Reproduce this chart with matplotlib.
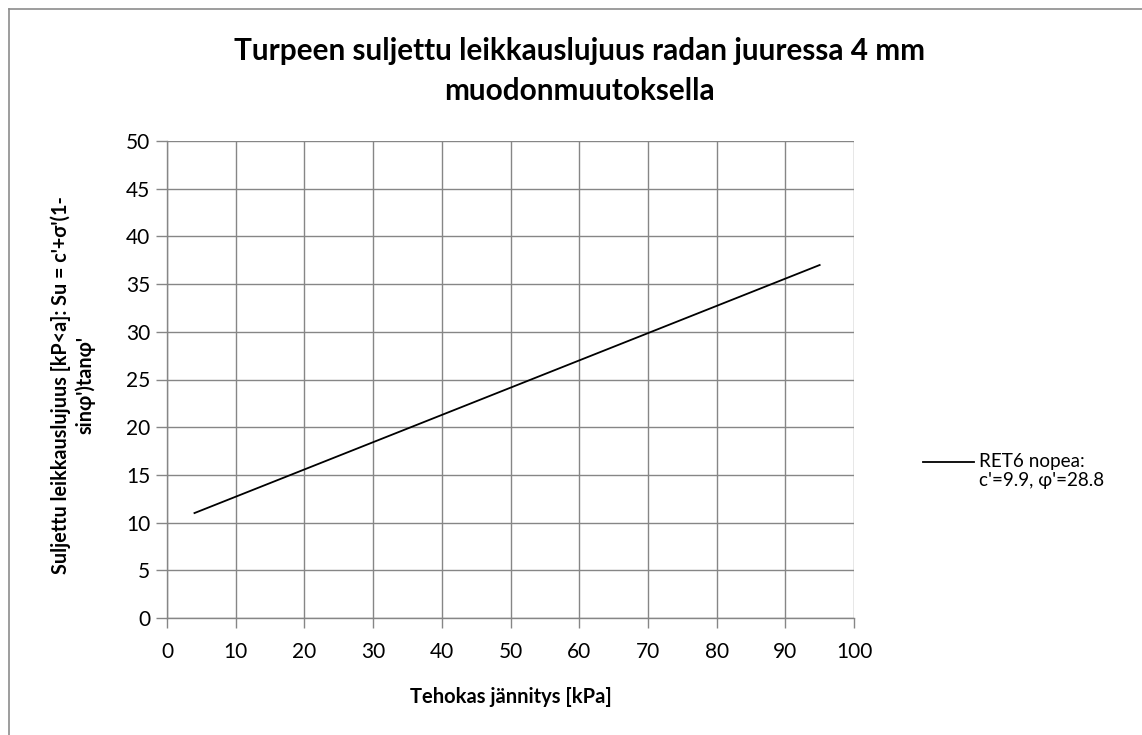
import matplotlib
matplotlib.use("Agg")
import matplotlib.pyplot as plt
from matplotlib.lines import Line2D

# datos de la recta de resistencia
jannitys = [4, 95]
lujuus = [11.0, 37.0]
sarja = "RET6 nopea:\nc'=9.9, φ'=28.8"

x_ticks = list(range(0, 101, 10))
y_ticks = list(range(0, 51, 5))

otsikko = "Turpeen suljettu leikkauslujuus radan juuressa 4 mm\nmuodonmuutoksella"
x_nimi = "Tehokas jännitys [kPa]"
y_nimi = "Suljettu leikkauslujuus [kP<a]: Su = c'+σ'(1-\nsinφ')tanφ'"

plt.rcParams['font.family'] = ['Lato', 'DejaVu Sans']

W, H = 1142, 735
fig = plt.figure(figsize=(W / 100, H / 100), dpi=100)

# area del grafico en pixeles
left, right, top, bottom = 167, 854, 141, 618
ax = fig.add_axes([left / W, 1 - bottom / H, (right - left) / W, (bottom - top) / H])

grid_col = "#868686"
ax.plot(jannitys, lujuus, color="black", linewidth=1.3, label=sarja)

ax.set_xlim(0, 100)
ax.set_ylim(0, 50)
ax.set_xticks(x_ticks)
ax.set_yticks(y_ticks)
ax.grid(True, color=grid_col, linewidth=1.0)
ax.set_axisbelow(True)
for s in ["top", "right"]:
    ax.spines[s].set_visible(False)
for s in ["left", "bottom"]:
    ax.spines[s].set_color(grid_col)
    ax.spines[s].set_linewidth(1.0)
ax.tick_params(axis="y", length=8, width=1, color=grid_col, labelsize=15, pad=4)
ax.tick_params(axis="x", length=7, width=1, color=grid_col, labelsize=15, pad=10)

# titulos de ejes y titulo principal en pixeles
fig.text((left + right) / 2 / W, 1 - 697 / H, x_nimi, ha="center", va="center",
         fontsize=14.5, fontweight="bold")
fig.text(73 / W, 1 - 385 / H, y_nimi, ha="center", va="center",
         rotation=90, fontsize=14.2, fontweight="bold", linespacing=1.2)
fig.text(579 / W, 1 - 71 / H, otsikko, ha="center", va="center",
         fontsize=21.4, fontweight="bold", linespacing=1.55)

leg = ax.legend(loc="center left", bbox_to_anchor=(906 / W, 1 - 471 / H),
                bbox_transform=fig.transFigure, frameon=False, fontsize=13.6,
                handlelength=2.7, handletextpad=0.25, labelspacing=0.2)
for t in leg.get_texts():
    t.set_linespacing(1.2)
# la muestra de linea a la altura de la primera linea del texto
h = leg.legend_handles[0]
h.set_ydata([v + 7 for v in h.get_ydata()])

# marco exterior
fig.add_artist(Line2D([9 / W, 9 / W], [0, 1 - 9 / H], color="#8c8c8c", linewidth=1.2))
fig.add_artist(Line2D([9 / W, 1], [1 - 9 / H, 1 - 9 / H], color="#8c8c8c", linewidth=1.2))

fig.savefig("out.png", dpi=100)
